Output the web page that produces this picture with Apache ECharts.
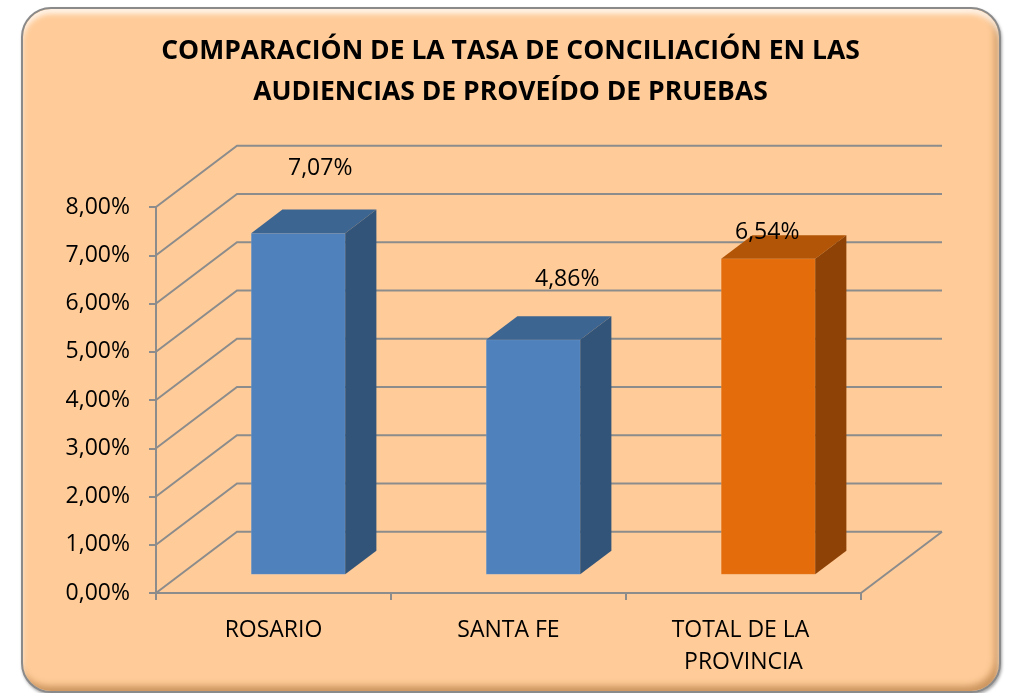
<!DOCTYPE html>
<html>
<head>
<meta charset="utf-8">
<script src="https://cdn.jsdelivr.net/npm/echarts@6/dist/echarts.min.js"></script>
<style>
  html, body { margin: 0; padding: 0; background: #ffffff; }
  #frame {
    position: absolute; left: 21px; top: 7px; width: 980px; height: 686px;
    box-sizing: border-box; border: 2px solid #8a8a8a; border-radius: 30px;
    background: #ffcc99;
    box-shadow: inset 0 5px 5px rgba(255,255,255,0.75), inset -4px -5px 7px rgba(140,80,20,0.45), 1px 2px 3px rgba(0,0,0,0.35);
  }
  #main { position: absolute; left: 0; top: 0; width: 1021px; height: 693px; }
</style>
</head>
<body>
<div id="frame"></div>
<div id="main"></div>
<script>
// datos del grafico
var categories = ['ROSARIO', 'SANTA FE', 'TOTAL DE LA PROVINCIA'];
var tasas = [7.07, 4.86, 6.54];
var yTicks = [0, 1, 2, 3, 4, 5, 6, 7, 8];

// perspectiva 3D (estilo Excel)
var DX = 81, DY = -61.3;
var FRONT = 0.305, BACK = 0.69, BAR_W = 0.40;
var gridColor = '#8c8c8c';
var blue = { front: '#4f81bd', top: '#3d6591', side: '#325479' };
var orange = { front: '#e46c0a', top: '#b25507', side: '#8f4205' };
// desplazamiento de las etiquetas (movidas a mano en el original)
var labelNudge = [[22, -65], [34, -60], [-1, -26]];

var font = '"Open Sans", sans-serif';
function pct(v) { return v.toFixed(2).replace('.', ',') + '%'; }

var myChart = echarts.init(document.getElementById('main'));
myChart.setOption({
  animation: false,
  title: {
    text: 'COMPARACIÓN DE LA TASA DE CONCILIACIÓN EN LAS\nAUDIENCIAS DE PROVEÍDO DE PRUEBAS',
    left: 'center',
    top: 26,
    textStyle: { fontFamily: font, fontSize: 26.5, fontWeight: 'bold', lineHeight: 41, color: '#000' }
  },
  grid: { left: 156, right: 160, top: 207, bottom: 100 },
  xAxis: {
    type: 'category',
    data: categories,
    axisLine: { lineStyle: { color: gridColor, width: 2 } },
    axisTick: { show: true, interval: 0, length: 7, lineStyle: { color: gridColor, width: 2 } },
    axisLabel: {
      interval: 0, color: '#000', fontFamily: font, fontSize: 23, margin: 21, lineHeight: 32,
      width: 180, overflow: 'break', align: 'center'
    }
  },
  yAxis: {
    type: 'value',
    min: 0, max: 8, interval: 1,
    axisLine: { show: true, lineStyle: { color: gridColor, width: 2 } },
    axisTick: { show: true, length: 7, lineStyle: { color: gridColor, width: 2 } },
    splitLine: { show: false },
    axisLabel: { color: '#000', fontFamily: font, fontSize: 23, margin: 26, formatter: function (v) { return pct(v); } }
  },
  series: [
    {
      // lineas de division en perspectiva (pared lateral, pared del fondo y piso)
      type: 'custom',
      z: 1,
      clip: false,
      data: yTicks.map(function (t) { return [0, t]; }),
      encode: { x: 0, y: 1 },
      renderItem: function (params, api) {
        var cs = params.coordSys;
        var y = api.coord([0, api.value(1)])[1];
        var left = cs.x, right = cs.x + cs.width;
        var children = [{
          type: 'polyline',
          shape: { points: [[left, y], [left + DX, y + DY], [right + DX, y + DY]] },
          style: { stroke: gridColor, lineWidth: 2, fill: null }
        }];
        if (api.value(1) === 0) {
          children.push({
            type: 'line',
            shape: { x1: right, y1: y, x2: right + DX, y2: y + DY },
            style: { stroke: gridColor, lineWidth: 2 }
          });
        }
        return { type: 'group', children: children };
      }
    },
    {
      // barras 3D
      type: 'custom',
      z: 3,
      clip: false,
      data: tasas.map(function (v, i) { return [i, v]; }),
      encode: { x: 0, y: 1 },
      renderItem: function (params, api) {
        var i = api.value(0), v = api.value(1);
        var base = api.coord([i, 0]);
        var top = api.coord([i, v]);
        var band = api.size([1, 0])[0];
        var w = band * BAR_W;
        var ox = DX * FRONT, oy = DY * FRONT;
        var dx = DX * (BACK - FRONT), dy = DY * (BACK - FRONT);
        var x0 = base[0] - w / 2 + ox, x1 = x0 + w;
        var yb = base[1] + oy, yt = top[1] + oy;
        var c = i === tasas.length - 1 ? orange : blue;
        var nudge = labelNudge[i];
        return {
          type: 'group',
          children: [
            { type: 'rect', shape: { x: x0, y: yt, width: w, height: yb - yt },
              style: { fill: c.front, stroke: 'rgba(255,255,255,0.12)', lineWidth: 1 } },
            { type: 'polygon', shape: { points: [[x0, yt], [x1, yt], [x1 + dx, yt + dy], [x0 + dx, yt + dy]] },
              style: { fill: c.top } },
            { type: 'polygon', shape: { points: [[x1, yt], [x1 + dx, yt + dy], [x1 + dx, yb + dy], [x1, yb]] },
              style: { fill: c.side } },
            { type: 'text', x: (x0 + x1) / 2 + nudge[0], y: yt + nudge[1],
              style: { text: pct(v), fill: '#000', font: '23px ' + font, align: 'center', verticalAlign: 'middle' } }
          ]
        };
      }
    }
  ]
});
</script>
</body>
</html>
